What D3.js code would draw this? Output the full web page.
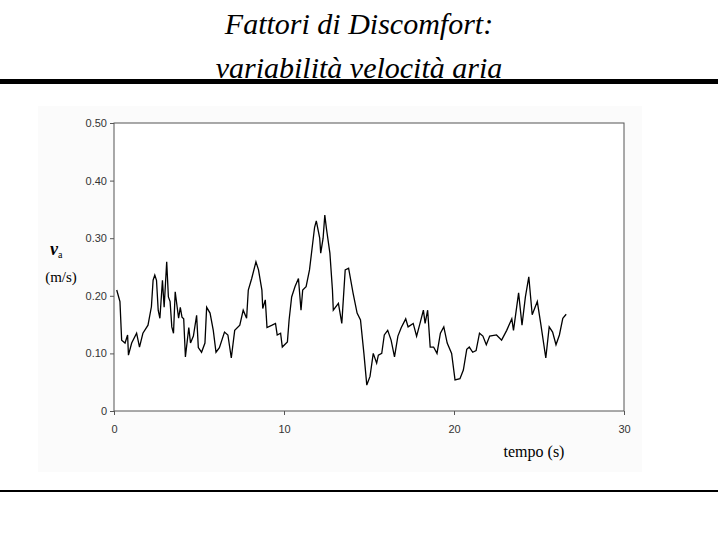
<!DOCTYPE html>
<html><head><meta charset="utf-8">
<script src="https://cdn.jsdelivr.net/npm/d3@7"></script>
<style>body{margin:0;background:#fff}</style></head>
<body><svg id="c" width="718" height="539"></svg>
<script>
const times=[0.16,0.35,0.45,0.65,0.8,0.85,1.04,1.33,1.5,1.7,2.0,2.2,2.3,2.4,2.5,2.6,2.7,2.85,2.95,3.1,3.2,3.3,3.4,3.5,3.6,3.8,3.9,4.0,4.1,4.2,4.4,4.5,4.67,4.86,4.96,5.15,5.35,5.45,5.65,5.84,6.0,6.2,6.5,6.7,6.9,7.1,7.4,7.6,7.8,7.9,8.1,8.35,8.5,8.7,8.75,8.9,9.0,9.3,9.5,9.6,9.8,9.9,10.2,10.3,10.45,10.65,10.85,11.0,11.1,11.3,11.5,11.8,11.9,12.1,12.16,12.3,12.4,12.5,12.7,12.85,12.9,13.2,13.4,13.6,13.8,14.06,14.3,14.5,14.7,14.87,15.06,15.25,15.45,15.55,15.75,15.9,16.1,16.3,16.5,16.7,16.9,17.16,17.3,17.6,17.8,18.0,18.2,18.3,18.45,18.6,18.8,19.0,19.2,19.4,19.6,19.86,20.06,20.35,20.55,20.75,20.9,21.1,21.3,21.5,21.7,21.9,22.1,22.5,22.8,23.1,23.4,23.5,23.8,24.0,24.2,24.4,24.6,24.9,25.1,25.4,25.6,25.8,26.0,26.2,26.4,26.6];
const speeds=[0.21,0.19,0.123,0.118,0.132,0.097,0.118,0.135,0.111,0.135,0.149,0.181,0.227,0.236,0.227,0.175,0.161,0.227,0.18,0.259,0.198,0.19,0.146,0.135,0.207,0.161,0.18,0.163,0.16,0.094,0.145,0.118,0.13,0.166,0.11,0.102,0.118,0.18,0.17,0.14,0.102,0.11,0.137,0.132,0.092,0.14,0.149,0.175,0.161,0.21,0.23,0.259,0.245,0.21,0.178,0.193,0.145,0.149,0.152,0.132,0.135,0.111,0.12,0.158,0.198,0.216,0.23,0.175,0.21,0.216,0.245,0.319,0.33,0.30,0.274,0.30,0.34,0.316,0.274,0.21,0.175,0.187,0.152,0.245,0.248,0.205,0.17,0.158,0.1,0.045,0.06,0.1,0.083,0.097,0.1,0.132,0.14,0.123,0.094,0.13,0.145,0.16,0.146,0.152,0.13,0.152,0.175,0.152,0.175,0.111,0.111,0.1,0.135,0.146,0.118,0.1,0.054,0.056,0.071,0.107,0.111,0.102,0.105,0.135,0.13,0.115,0.13,0.132,0.123,0.14,0.16,0.14,0.205,0.149,0.198,0.233,0.167,0.19,0.152,0.092,0.146,0.137,0.115,0.132,0.161,0.168];
const yTicks=[0,0.1,0.2,0.3,0.4,0.5];
const yTickLabels=["0","0.10","0.20","0.30","0.40","0.50"];
const xTicks=[0,10,20,30];
const svg=d3.select("#c");
svg.append("rect").attr("x",38).attr("y",106).attr("width",604).attr("height",366).attr("fill","#fbfbfb");
svg.append("text").attr("x",359).attr("y",34).attr("text-anchor","middle").attr("font-family","Liberation Serif").attr("font-style","italic").attr("font-size",30).text("Fattori di Discomfort:");
svg.append("text").attr("x",359).attr("y",78).attr("text-anchor","middle").attr("font-family","Liberation Serif").attr("font-style","italic").attr("font-size",30).text("variabilità velocità aria");
svg.append("rect").attr("x",0).attr("y",79).attr("width",718).attr("height",5).attr("fill","#000");
svg.append("rect").attr("x",0).attr("y",490).attr("width",718).attr("height",2).attr("fill","#000");
const x=d3.scaleLinear().domain([0,30]).range([114,624]);
const y=d3.scaleLinear().domain([0,0.5]).range([411,123]);
svg.append("rect").attr("x",114).attr("y",123).attr("width",510).attr("height",288).attr("fill","#fff").attr("stroke","#555").attr("stroke-width",1);
const ya=svg.append("g").attr("transform","translate(114,0)").call(d3.axisLeft(y).tickValues(yTicks).tickSize(4).tickFormat((d,i)=>yTickLabels[i]));
const xa=svg.append("g").attr("transform","translate(0,411)").call(d3.axisBottom(x).tickValues(xTicks).tickSize(4).tickFormat(d3.format("d")));
[ya,xa].forEach(a=>{a.selectAll("text").attr("font-family","Liberation Sans").attr("font-size",11).attr("fill","#333");a.select(".domain").remove();a.selectAll("line").attr("stroke","#555");});
xa.selectAll("text").attr("dy","1.4em");
svg.append("path").datum(times.map((t,i)=>[t,speeds[i]])).attr("fill","none").attr("stroke","#000").attr("stroke-width",1.3)
 .attr("d",d3.line().x(d=>x(d[0])).y(d=>y(d[1])));
svg.append("text").attr("x",50).attr("y",255).attr("font-family","Liberation Serif").attr("font-weight","bold").attr("font-style","italic").attr("font-size",18).text("v").append("tspan").attr("font-size",10).attr("font-weight","normal").attr("font-style","normal").attr("dy",3).text("a");
svg.append("text").attr("x",61).attr("y",282).attr("text-anchor","middle").attr("font-family","Liberation Serif").attr("font-size",15).text("(m/s)");
svg.append("text").attr("x",534).attr("y",457).attr("text-anchor","middle").attr("font-family","Liberation Serif").attr("font-size",16).text("tempo (s)");
</script></body></html>
